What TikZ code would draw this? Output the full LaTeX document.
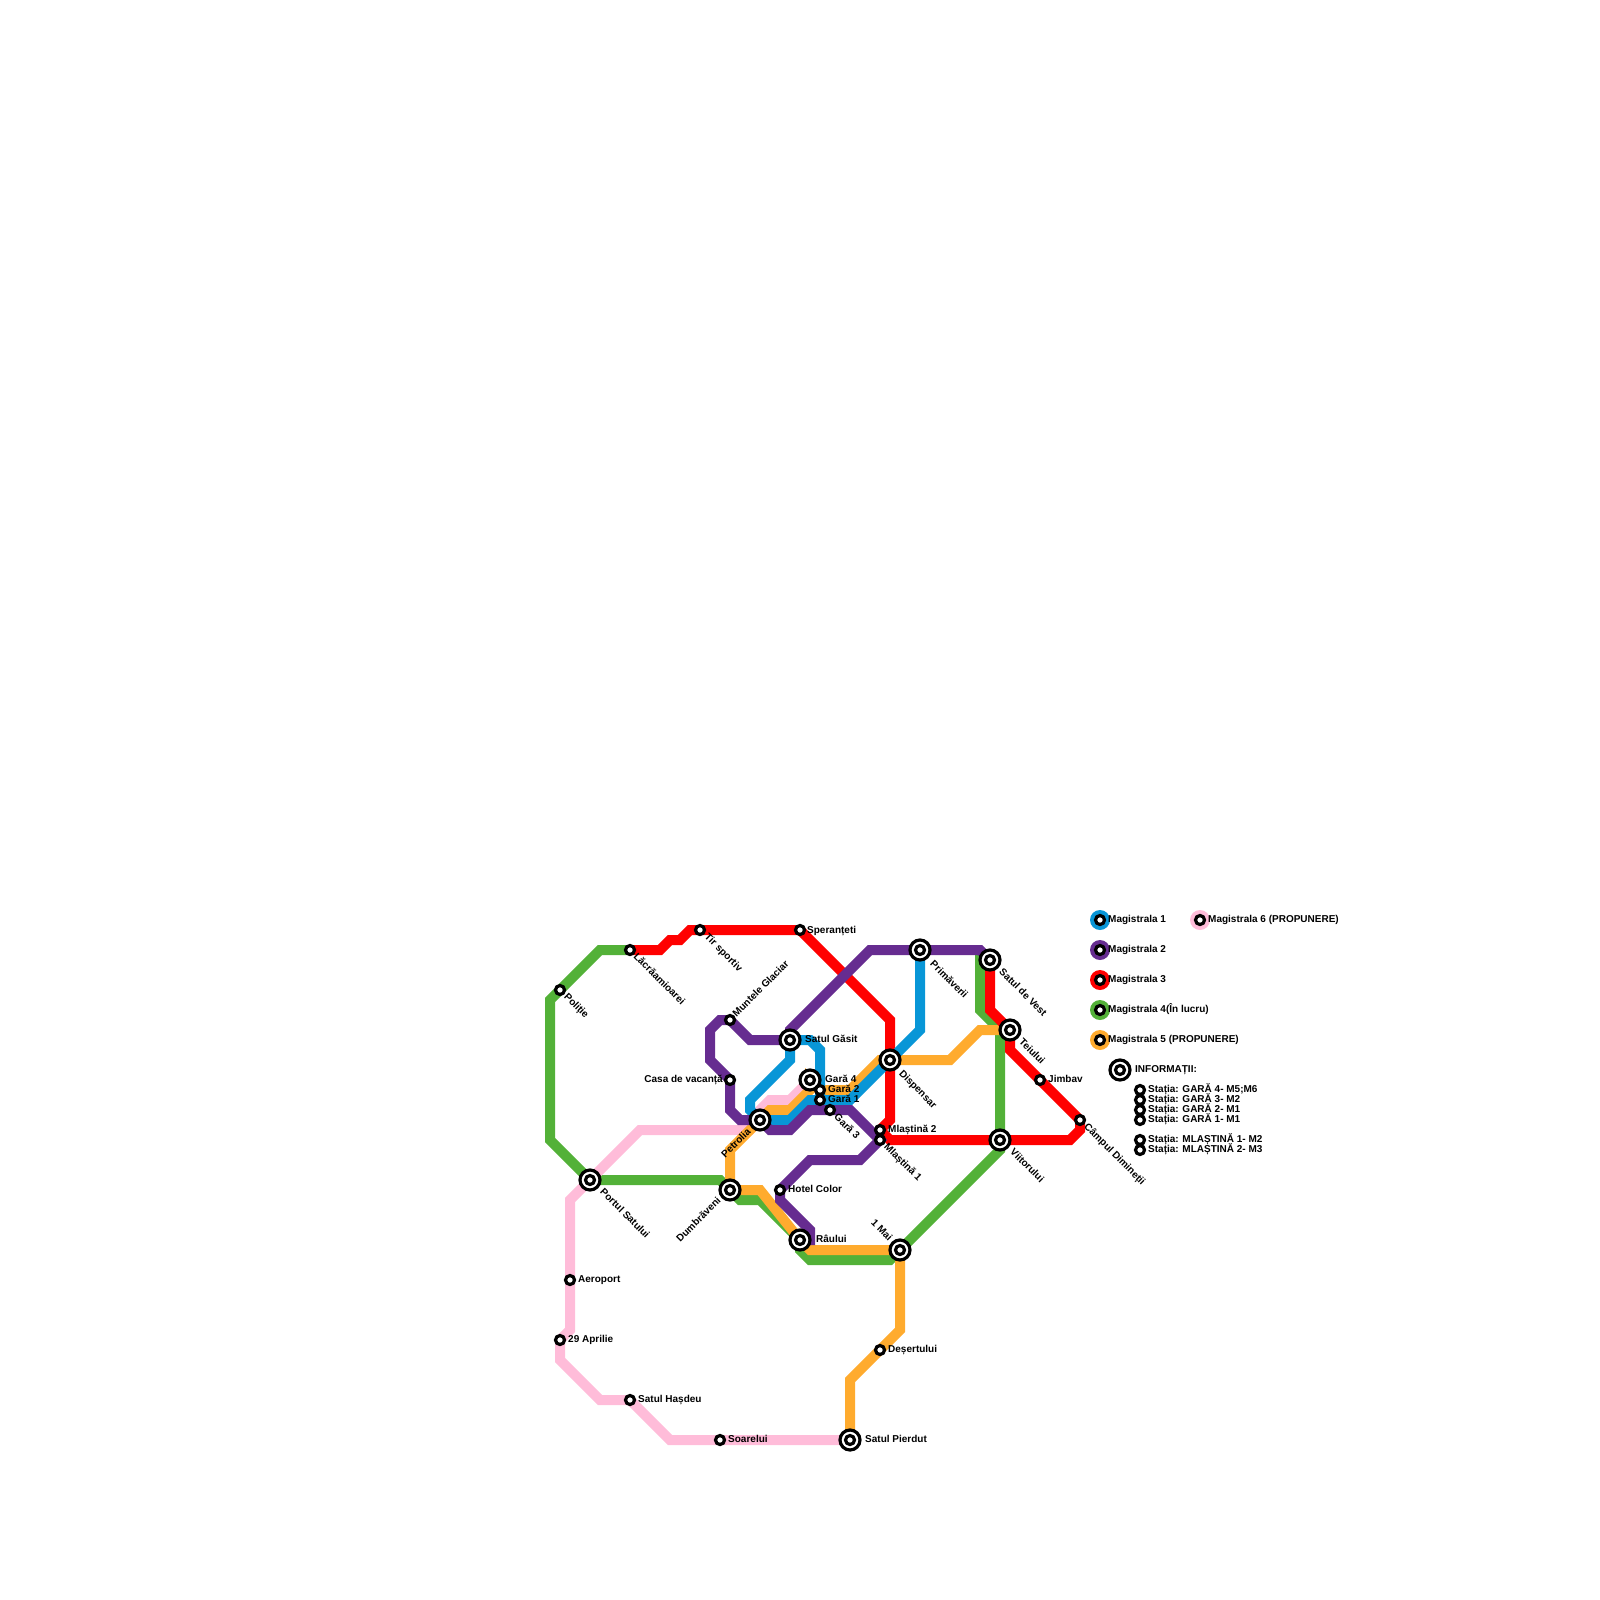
\documentclass[tikz,border=0pt]{standalone}
\usepackage{fontspec}
\setmainfont{Liberation Sans}
\usetikzlibrary{backgrounds,calc}
\definecolor{mblue}{HTML}{0896D7}
\definecolor{mpurple}{HTML}{662C90}
\definecolor{mred}{HTML}{FF0000}
\definecolor{mgreen}{HTML}{53B138}
\definecolor{morange}{HTML}{FFAB2E}
\definecolor{mpink}{HTML}{FFBCD9}
\begin{document}
\begin{tikzpicture}[
  x=1pt,y=-1pt,
  font=\fontsize{10}{12}\bfseries\selectfont,
  mline/.style={line width=10pt, line join=miter},
  stn/.style={circle, draw=black, fill=white, line width=3.2pt, minimum size=9pt, inner sep=0pt, outer sep=0pt},
  xchg/.style={circle, draw=black, fill=white, line width=3.2pt, minimum size=20pt, inner sep=0pt, outer sep=0pt},
  disc/.style={circle, minimum size=20pt, inner sep=0pt, outer sep=0pt},
  lbl/.style={inner sep=0pt, anchor=west, text height=7pt, text depth=0pt},
  lblr/.style={lbl, anchor=east},
  lbld/.style={lbl, rotate=-45},
  lblu/.style={lbl, rotate=45},
  lblue/.style={lblu, anchor=east},
  lblde/.style={lbld, anchor=east}
]
\useasboundingbox (0,0) rectangle (1600,1600);

% interchanges
\foreach \name/\x/\y in {gasit/790/1040, petrolia/760/1120, portul/590/1180, dumbraveni/730/1190,
  gara4/810/1080, dispensar/890/1060, primaveri/920/950, vest/990/960, teiului/1010/1030,
  viitorului/1000/1140, pierdut/850/1440, mai/900/1250, raului/800/1240}
{
  \node[xchg] (\name) at (\x,\y) {};
  \node[stn] (\name-in) at (\x,\y) {};
}

% stations
\foreach \name/\x/\y in {politie/560/990, lacramioarei/630/950, tir/700/930, sperante/800/930,
  muntele/730/1020, casa/730/1080, hotel/780/1190, gara2/820/1090, gara1/820/1100, gara3/830/1110,
  mlastina2/880/1130, mlastina1/880/1140, jimbav/1040/1080, campul/1080/1120, aeroport/570/1280,
  aprilie/560/1340, hasdeu/630/1400, soarelui/720/1440, desert/880/1350}
  \node[stn] (\name) at (\x,\y) {};

% lines
\begin{scope}[on background layer]
\draw[mline, mgreen] (lacramioarei.center) -- (600,950) -- (politie.center) -- (550,1000) -- (550,1140)
  -- (portul.center) -- (720,1180) -- (dumbraveni.center) -- (740,1200) -- (760,1200) -- (raului.center)
  -- (800,1250) -- (810,1260) -- (890,1260) -- (mai.center) -- (1000,1150) -- (viitorului.center)
  -- (1000,1030) -- (980,1010) -- (980,960) -- (vest.center);
\draw[mline, mpink] (gara4.center) -- (790,1100) -- (770,1100) -- (760,1110) -- (petrolia.center)
  -- (750,1130) -- (640,1130) -- (portul.center) -- (570,1200) -- (aeroport.center) -- (570,1330)
  -- (aprilie.center) -- (560,1360) -- (600,1400) -- (hasdeu.center) -- (670,1440) -- (soarelui.center)
  -- (pierdut.center);
\draw[mline, morange] (pierdut.center) -- (850,1380) -- (desert.center) -- (900,1330) -- (mai.center)
  -- (810,1250) -- (raului.center) -- (760,1190) -- (dumbraveni.center) -- (730,1150) -- (petrolia.center)
  -- (770,1110) -- (790,1110) -- (810,1090) -- (gara4.center) -- (820,1090) -- (850,1090) -- (880,1060)
  -- (dispensar.center) -- (950,1060) -- (980,1030) -- (teiului.center);
\draw[mline, mred] (lacramioarei.center) -- (660,950) -- (670,940) -- (680,940) -- (690,930) -- (tir.center)
  -- (sperante.center) -- (890,1020) -- (dispensar.center) -- (890,1120) -- (mlastina2.center)
  -- (890,1140) -- (viitorului.center) -- (1070,1140) -- (1080,1130) -- (campul.center) -- (jimbav.center)
  -- (1010,1050) -- (teiului.center) -- (990,1010) -- (vest.center);
\draw[mline, mblue] (primaveri.center) -- (920,1030) -- (dispensar.center) -- (850,1100) -- (gara1.center)
  -- (810,1100) -- (790,1120) -- (petrolia.center) -- (750,1110) -- (750,1100) -- (790,1060)
  -- (gasit.center) -- (810,1040) -- (820,1050) -- (gara2.center) -- (gara1.center);
\draw[mline, mpurple] (vest.center) -- (980,950) -- (primaveri.center) -- (870,950) -- (790,1030)
  -- (gasit.center) -- (750,1040) -- (muntele.center) -- (720,1020) -- (710,1030) -- (710,1060)
  -- (casa.center) -- (730,1110) -- (740,1120) -- (petrolia.center) -- (770,1130) -- (790,1130) -- (810,1110)
  -- (gara3.center) -- (850,1110) -- (mlastina1.center) -- (860,1160) -- (810,1160) -- (hotel.center)
  -- (780,1200) -- (810,1230) -- (810,1240) -- (raului.center);
\end{scope}

% station names
\node[lbl] (sperante-t) at (807,930) {Speranțeti};
\node[lbld] (tir-t) at (706.5,935) {Tir sportiv};
\node[lbld] (lacramioarei-t) at (635.5,955) {Lăcrăamioarei};
\node[lbld] (politie-t) at (566,995) {Poliție};
\node[lblu] (muntele-t) at (734,1015) {Muntele Glaciar};
\node[lbl] (gasit-t) at (805,1039) {Satul Găsit};
\node[lblr] (casa-t) at (723,1079) {Casa de vacanță};
\node[lblue] (petrolia-t) at (749,1130) {Petrolia};
\node[lbld] (portul-t) at (602,1190) {Portul Satului};
\node[lblue] (dumbraveni-t) at (719,1199) {Dumbrăveni};
\node[lbl] (hotel-t) at (788,1189) {Hotel Color};
\node[lbl] (raului-t) at (816,1239) {Râului};
\node[lblde] (mai-t) at (891,1239) {1 Mai};
\node[lbl] (aeroport-t) at (578,1279) {Aeroport};
\node[lbl] (aprilie-t) at (568,1339) {29 Aprilie};
\node[lbl] (hasdeu-t) at (638,1399) {Satul Hașdeu};
\node[lbl] (soarelui-t) at (728,1439) {Soarelui};
\node[lbl] (pierdut-t) at (865,1439) {Satul Pierdut};
\node[lbl] (desert-t) at (888,1349) {Deșertului};
\node[lbl] (gara4-t) at (825,1079) {Gară 4};
\node[lbl] (gara2-t) at (828,1089) {Gară 2};
\node[lbl] (gara1-t) at (828,1099) {Gară 1};
\node[lbld] (gara3-t) at (836,1115) {Gară 3};
\node[lbl] (mlastina2-t) at (888,1129) {Mlaștină 2};
\node[lbld] (mlastina1-t) at (886,1145) {Mlaștină 1};
\node[lbld] (dispensar-t) at (901,1072) {Dispensar};
\node[lbld] (primaveri-t) at (932,962) {Primăverii};
\node[lbld] (vest-t) at (1001,970) {Satul de Vest};
\node[lbld] (teiului-t) at (1021,1040) {Teiului};
\node[lbl] (jimbav-t) at (1048,1079) {Jimbav};
\node[lbld] (campul-t) at (1086,1125) {Câmpul Dimineții};
\node[lbld] (viitorului-t) at (1012,1150) {Viitorului};

% legend
\foreach \name/\col/\x/\y/\txt in {
  leg1/mblue/1100/920/Magistrala 1, leg2/mpurple/1100/950/Magistrala 2,
  leg3/mred/1100/980/Magistrala 3, leg4/mgreen/1100/1010/Magistrala 4(În lucru),
  leg5/morange/1100/1040/Magistrala 5 (PROPUNERE), leg6/mpink/1200/920/Magistrala 6 (PROPUNERE)}
{
  \node[disc, fill=\col] (\name) at (\x,\y) {};
  \node[stn] (\name-in) at (\x,\y) {};
  \node[lbl] (\name-t) at ($(\x,\y)+(8,-1)$) {\txt};
}
\node[xchg] (info) at (1120,1070) {};
\node[stn] (info-in) at (1120,1070) {};
\node[lbl] (info-t) at (1135,1069) {INFORMAȚII:};
\foreach \name/\y/\txt in {
  inf1/1090/Stația: GARĂ 4- M5;M6, inf2/1100/Stația: GARĂ 3- M2,
  inf3/1110/Stația: GARĂ 2- M1, inf4/1120/Stația: GARĂ 1- M1,
  inf5/1140/Stația: MLAȘTINĂ 1- M2, inf6/1150/Stația: MLAȘTINĂ 2- M3}
{
  \node[stn] (\name) at (1140,\y) {};
  \node[lbl] (\name-t) at (1148,\y-1) {\txt};
}
\end{tikzpicture}
\end{document}
